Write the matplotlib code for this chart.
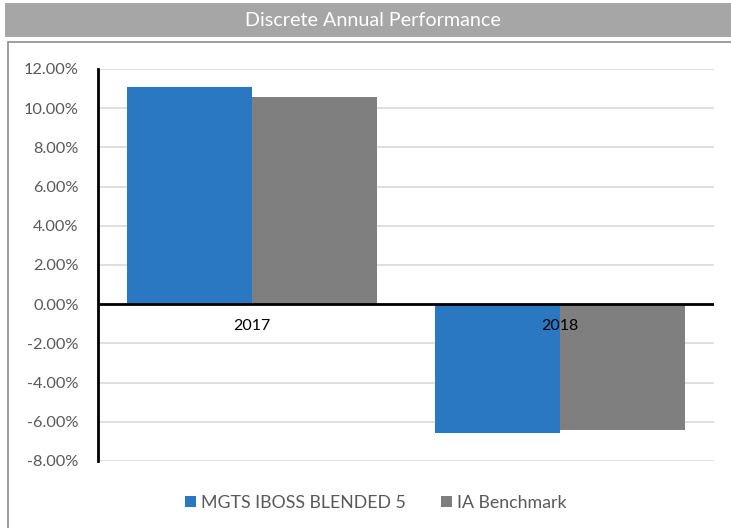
import numpy as np
import matplotlib.pyplot as plt
from matplotlib.patches import Rectangle
from matplotlib.ticker import FuncFormatter

categories = ['2017', '2018']
fund = [11.07, -6.58]
benchmark = [10.56, -6.43]
series_names = ['MGTS IBOSS BLENDED 5', 'IA Benchmark']
colors = ['#2b78c2', '#7f7f7f']

plt.rcParams['font.family'] = ['Lato', 'DejaVu Sans']

fig = plt.figure(figsize=(7.31, 5.28), dpi=100)

# title banner and chart border
fig.patches.append(Rectangle((5 / 731, 1 - 37 / 528), 726 / 731, 34 / 528,
                             transform=fig.transFigure, facecolor='#a6a6a6',
                             edgecolor='none', zorder=0))
fig.text(373 / 731, 1 - 20 / 528, 'Discrete Annual Performance', color='white',
         fontsize=14.2, ha='center', va='center')
fig.patches.append(Rectangle((8 / 731, -0.05), 1.0, 1 - 42 / 528 + 0.05,
                             transform=fig.transFigure, facecolor='none',
                             edgecolor='#8c8c8c', linewidth=1.2, zorder=0))

ax = fig.add_axes([98 / 731, 1 - 461 / 528, 616 / 731, 392 / 528])

x = np.arange(len(categories))
w = 0.405
ax.bar(x - w / 2, fund, w, color=colors[0], label=series_names[0], zorder=3)
ax.bar(x + w / 2, benchmark, w, color=colors[1], label=series_names[1], zorder=3)

ax.set_xlim(-0.5, 1.5)
ax.set_ylim(-8, 12)
ax.set_yticks(np.arange(-8, 13, 2))
ax.yaxis.set_major_formatter(FuncFormatter(lambda v, p: '%.2f%%' % v))
ax.tick_params(axis='y', length=0, labelsize=11.8, labelcolor='#595959', pad=14)
ax.grid(axis='y', color='#d9d9d9', linewidth=1.2, zorder=0)
ax.axhline(0, color='black', linewidth=2, zorder=4)

ax.set_xticks([])
for i, c in enumerate(categories):
    ax.text(x[i], -0.75, c, ha='center', va='top', fontsize=11.5, color='black', zorder=5)

for s in ['top', 'right', 'bottom']:
    ax.spines[s].set_visible(False)
ax.spines['left'].set_linewidth(2)
ax.spines['left'].set_color('black')

fig.legend(loc='center', bbox_to_anchor=(376 / 731, 1 - 503 / 528), ncol=2,
           frameon=False, fontsize=12.8, handlelength=0.6, handleheight=0.6,
           handletextpad=0.3, columnspacing=2.0, labelcolor='#595959')

fig.savefig('out.png', dpi=100)
